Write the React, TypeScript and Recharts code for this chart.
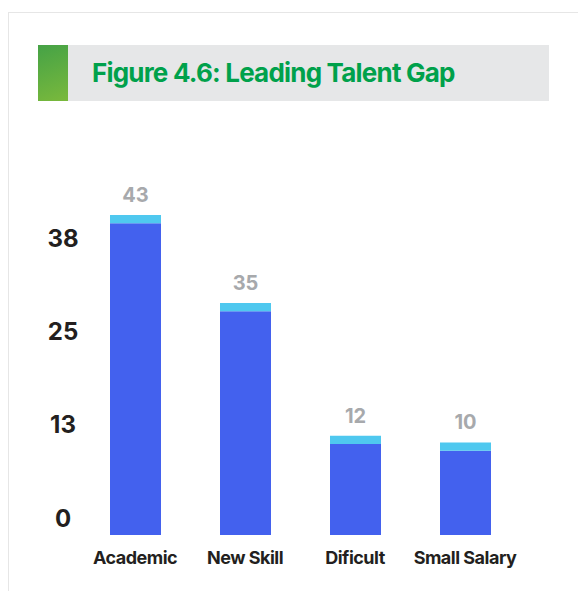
import { Bar, BarChart, LabelList, XAxis, YAxis } from "recharts";

const categories = ["Academic", "New Skill", "Dificult", "Small Salary"];
const baseValues = [41.8, 30.0, 12.2, 11.3];
const capValues = [1.1, 1.1, 1.1, 1.1];
const printedValues = [43, 35, 12, 10];
const yTicks = [0, 12.5, 25, 37.5];

const data = categories.map((name, i) => ({
  name,
  base: baseValues[i],
  cap: capValues[i],
  label: printedValues[i],
}));

const FONT = "Inter, 'Noto Sans', sans-serif";

function YTick(props: any) {
  const { y, payload } = props;
  return (
    <text
      x={63}
      y={y - 17}
      textAnchor="middle"
      dominantBaseline="central"
      fontFamily={FONT}
      fontWeight={700}
      fontSize={24}
      fill="#231f20"
    >
      {Math.round(payload.value)}
    </text>
  );
}

function XTick(props: any) {
  const { x, y, payload } = props;
  return (
    <text
      x={x}
      y={y + 14}
      textAnchor="middle"
      dominantBaseline="central"
      fontFamily={FONT}
      fontWeight={700}
      fontSize={18}
      letterSpacing={-0.5}
      fill="#231f20"
    >
      {payload.value}
    </text>
  );
}

function TopLabel(props: any) {
  const { x, y, width, value } = props;
  return (
    <text
      x={x + width / 2}
      y={y - 20}
      textAnchor="middle"
      dominantBaseline="central"
      fontFamily={FONT}
      fontWeight={700}
      fontSize={20}
      fill="#a7a9ac"
    >
      {value}
    </text>
  );
}

export default function App() {
  return (
    <div style={{ position: "relative", width: 578, height: 591, overflow: "hidden", background: "#fff" }}>
      <style>{`body{margin:0;overflow:hidden}`}</style>
      <div
        style={{
          position: "absolute",
          left: 8,
          top: 12,
          width: 600,
          height: 620,
          borderTop: "1px solid #e6e6e6",
          borderLeft: "1px solid #e6e6e6",
        }}
      />
      <div
        style={{
          position: "absolute",
          left: 38,
          top: 45,
          width: 511,
          height: 56,
          background: "#e6e7e8",
        }}
      >
        <div
          style={{
            position: "absolute",
            left: 0,
            top: 0,
            width: 30,
            height: 56,
            background: "linear-gradient(160deg, #45a246 0%, #7ab93c 100%)",
          }}
        />
        <div
          style={{
            position: "absolute",
            left: 54,
            top: 0,
            height: 56,
            lineHeight: "56px",
            fontFamily: FONT,
            fontWeight: 700,
            fontSize: 26,
            letterSpacing: -0.8,
            color: "#00a14b",
            whiteSpace: "nowrap",
          }}
        >
          Figure 4.6: Leading Talent Gap
        </div>
      </div>
      <div style={{ position: "absolute", left: 0, top: 0 }}>
        <BarChart
          width={578}
          height={591}
          data={data}
          margin={{ top: 162, right: 58, bottom: 16, left: 20 }}
          barSize={51}
        >
          <XAxis dataKey="name" axisLine={false} tickLine={false} height={40} interval={0} tick={<XTick />} />
          <YAxis
            domain={[0, 50]}
            ticks={yTicks}
            axisLine={false}
            tickLine={false}
            width={60}
            tick={<YTick />}
          />
          <Bar dataKey="base" stackId="a" fill="#4361ee" isAnimationActive={false} />
          <Bar dataKey="cap" stackId="a" fill="#4fc8ef" isAnimationActive={false}>
            <LabelList dataKey="label" content={<TopLabel />} />
          </Bar>
        </BarChart>
      </div>
    </div>
  );
}
